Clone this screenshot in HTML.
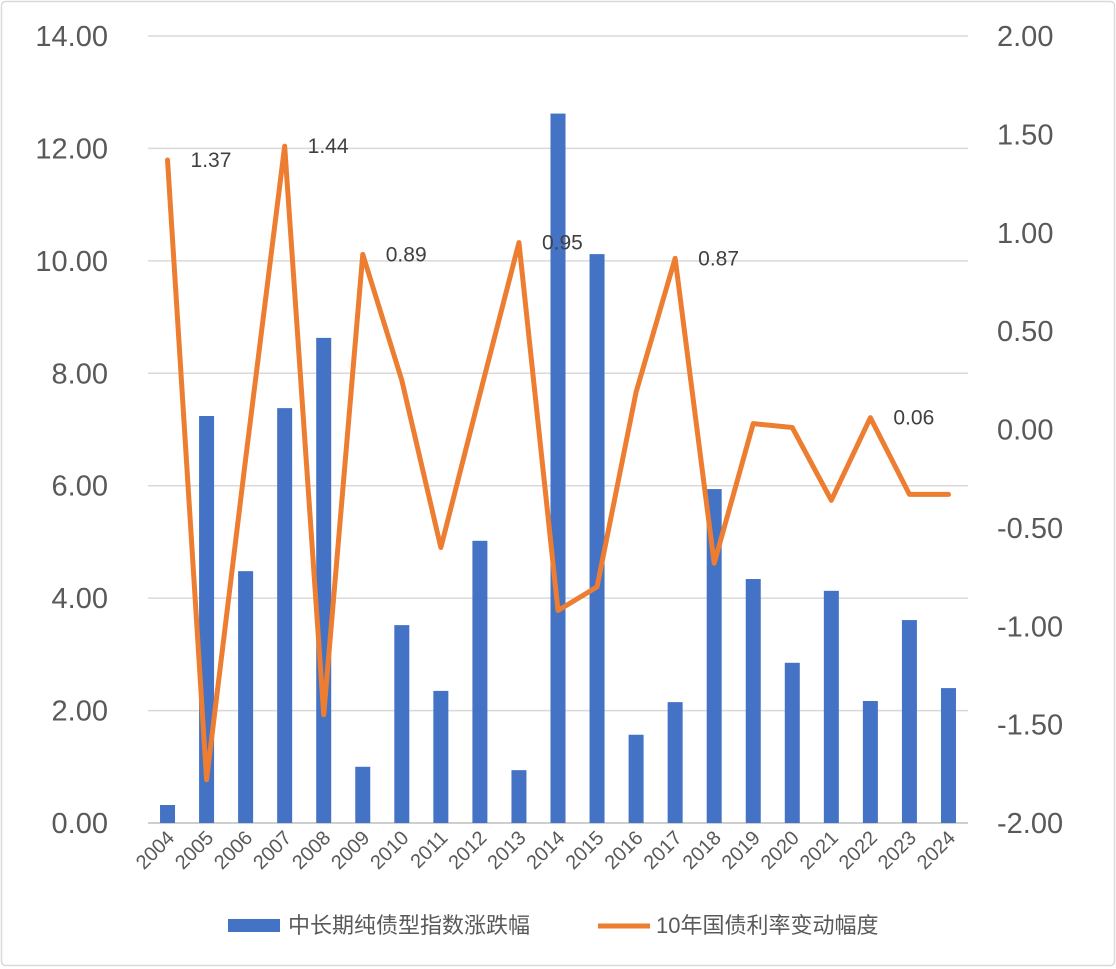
<!DOCTYPE html>
<html><head><meta charset="utf-8"><style>
body{margin:0;background:#fff;}
svg{display:block;font-family:"Liberation Sans","Noto Sans CJK SC",sans-serif;}
</style></head><body>
<svg id="c" width="1116" height="969">
<rect x="1.5" y="1.5" width="1113" height="964" rx="4" fill="#fff" stroke="#d9d9d9" stroke-width="1.5"/>
<g id="grid"></g><g id="bars"></g><g id="line"></g><g id="labels"></g><g id="axes"></g>
<g>
<rect x="228" y="919" width="52" height="13" fill="#4472c4"/>
<text x="288" y="933" font-size="22" fill="#595959">中长期纯债型指数涨跌幅</text>
<line x1="598" y1="926" x2="650" y2="926" stroke="#ed7d31" stroke-width="5"/>
<text x="656" y="933" font-size="22" fill="#595959">10年国债利率变动幅度</text>
</g>
</svg>
<script>
const years=["2004","2005","2006","2007","2008","2009","2010","2011","2012","2013","2014","2015","2016","2017","2018","2019","2020","2021","2022","2023","2024"];
const barValues=[0.32,7.24,4.48,7.38,8.63,1.0,3.52,2.35,5.02,0.94,12.62,10.12,1.57,2.15,5.94,4.34,2.85,4.13,2.17,3.61,2.40];
const lineValues=[1.37,-1.78,-0.15,1.44,-1.45,0.89,0.25,-0.60,0.18,0.95,-0.92,-0.80,0.19,0.87,-0.68,0.03,0.01,-0.36,0.06,-0.33,-0.33];
const leftTicks=[0,2,4,6,8,10,12,14];
const rightTicks=[-2,-1.5,-1,-0.5,0,0.5,1,1.5,2];
const labeledIdx=[0,3,5,9,13,18];
const NS="http://www.w3.org/2000/svg";
const X0=148,X1=968,Y0=823,Y1=36;
const bw=(X1-X0)/years.length;
const xc=i=>X0+bw*(i+0.5);
const yL=v=>Y0-(v-0)/14*(Y0-Y1);
const yR=v=>Y0-(v+2)/4*(Y0-Y1);
function mk(tag,attrs,parent,text){const e=document.createElementNS(NS,tag);for(const k in attrs)e.setAttribute(k,attrs[k]);if(text!==undefined)e.textContent=text;document.getElementById(parent).appendChild(e);return e;}
leftTicks.forEach(v=>{
 const g=mk("line",{x1:X0,x2:X1,y1:yL(v),y2:yL(v),stroke:v===0?"#bfbfbf":"#d9d9d9","stroke-width":1.5},"grid");
 
 
 const t=mk("text",{x:108,y:yL(v)+10,"font-size":29,fill:"#595959","text-anchor":"end"},"axes",v.toFixed(2));
 
 
});
rightTicks.forEach(v=>{
 const t=mk("text",{x:997,y:yR(v)+10,"font-size":29,fill:"#595959"},"axes",(v<0?"-":"")+Math.abs(v).toFixed(2));
 
 
});
years.forEach((y,i)=>{
 const b=mk("rect",{x:xc(i)-7.5,y:yL(barValues[i]),width:15,height:Y0-yL(barValues[i]),fill:"#4472c4"},"bars");
 
 
 const t=mk("text",{x:0,y:0,"font-size":20,fill:"#595959","text-anchor":"end",transform:`translate(${xc(i)+8},${Y0+16}) rotate(-45)`},"axes",y);
 
 
});
const pts=lineValues.map((v,i)=>xc(i)+","+yR(v)).join(" ");
const pl=mk("polyline",{points:pts,fill:"none",stroke:"#ed7d31","stroke-width":5,"stroke-linejoin":"round","stroke-linecap":"round"},"line");


labeledIdx.forEach(i=>{
 const t=mk("text",{x:xc(i)+23,y:yR(lineValues[i])+7,"font-size":21,fill:"#404040"},"labels",lineValues[i].toFixed(2));
 
 
});
</script>
</body></html>
